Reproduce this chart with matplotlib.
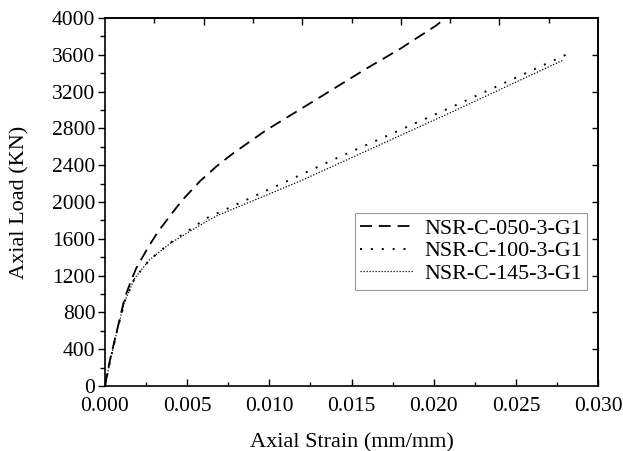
import matplotlib.pyplot as plt
from matplotlib.ticker import MultipleLocator
import numpy as np

plt.rcParams['font.family'] = ['Liberation Serif', 'DejaVu Serif']
plt.rcParams['font.size'] = 15.5

# load-strain curves read for the three column specimens
strain_050 = [0.0, 0.0003, 0.0007, 0.0012, 0.0016, 0.0019, 0.0026, 0.0032, 0.004,
              0.0047, 0.0058, 0.0068, 0.0078, 0.0098, 0.0119, 0.0139, 0.0159,
              0.018, 0.0202, 0.0207]
load_050 = [0, 280, 580, 960, 1150, 1280, 1500, 1670, 1860,
            2020, 2230, 2390, 2530, 2780, 3010, 3230, 3450,
            3670, 3925, 4000]

strain_100 = [0.0, 0.0003, 0.0007, 0.0012, 0.0018, 0.0027, 0.004, 0.0062,
              0.0119, 0.0137, 0.021, 0.0218, 0.0284]
load_100 = [0, 260, 576, 920, 1170, 1370, 1560, 1826,
            2295, 2445, 3025, 3090, 3630]

strain_145 = [0.0, 0.0003, 0.0007, 0.0012, 0.0018, 0.0027, 0.004, 0.0058,
              0.0068, 0.0119, 0.021, 0.0279]
load_145 = [0, 260, 576, 920, 1170, 1370, 1555, 1750,
            1850, 2230, 2970, 3545]

labels = ['NSR-C-050-3-G1', 'NSR-C-100-3-G1', 'NSR-C-145-3-G1']

fig = plt.figure(figsize=(6.23, 4.51), dpi=100)
ax = fig.add_axes([0.1685, 0.1441, 0.7915, 0.8159])

ax.plot(strain_050, load_050, color='black', lw=1.3, linestyle=(0, (6.6, 3.8)), label=labels[0])
ax.plot(strain_100, load_100, color='black', lw=1.4, linestyle=(0, (1, 4.6)), label=labels[1])
ax.plot(strain_145, load_145, color='black', lw=0.9, linestyle=(0, (1, 1.4)), label=labels[2])

ax.set_xlim(0, 0.030)
ax.set_ylim(0, 4000)
ax.xaxis.set_major_locator(MultipleLocator(0.005))
ax.xaxis.set_minor_locator(MultipleLocator(0.0025))
ax.yaxis.set_major_locator(MultipleLocator(400))
ax.yaxis.set_minor_locator(MultipleLocator(200))
ax.xaxis.set_major_formatter(plt.FormatStrFormatter('%.3f'))

ax.tick_params(axis='x', which='major', direction='in', length=5, width=1, pad=8)
ax.tick_params(axis='x', which='minor', direction='in', length=3, width=1)
ax.tick_params(axis='y', which='major', direction='out', length=5, width=1, pad=2)
ax.tick_params(axis='y', which='minor', direction='out', length=3.5, width=1)

# top and right frame ticks
top = ax.secondary_xaxis('top')
top.set_xticks(np.arange(0.006, 0.030, 0.006))
top.set_xticks(np.arange(0.003, 0.030, 0.006), minor=True)
top.tick_params(which='major', direction='in', length=5, width=1, labeltop=False)
top.tick_params(which='minor', direction='in', length=3.5, width=1, labeltop=False)

right = ax.secondary_yaxis('right')
right.set_yticks(np.arange(400, 4000, 400))
right.tick_params(direction='in', length=4, width=1, labelright=False)

for sp in ax.spines.values():
    sp.set_linewidth(1.2)
top.spines['top'].set_linewidth(1.2)
right.spines['right'].set_linewidth(1.2)

ax.set_xlabel('Axial Strain (mm/mm)', fontsize=16, labelpad=12)
ax.set_ylabel('Axial Load (KN)', fontsize=16, labelpad=16)

leg = ax.legend(loc='upper right', bbox_to_anchor=(0.978, 0.470), frameon=True,
                fancybox=False, edgecolor='#808080', handlelength=2.4,
                handletextpad=0.5, borderpad=0.25, labelspacing=0.1, fontsize=15.8,
                borderaxespad=0)
leg.get_frame().set_linewidth(0.8)

fig.savefig('out.png', dpi=100)
